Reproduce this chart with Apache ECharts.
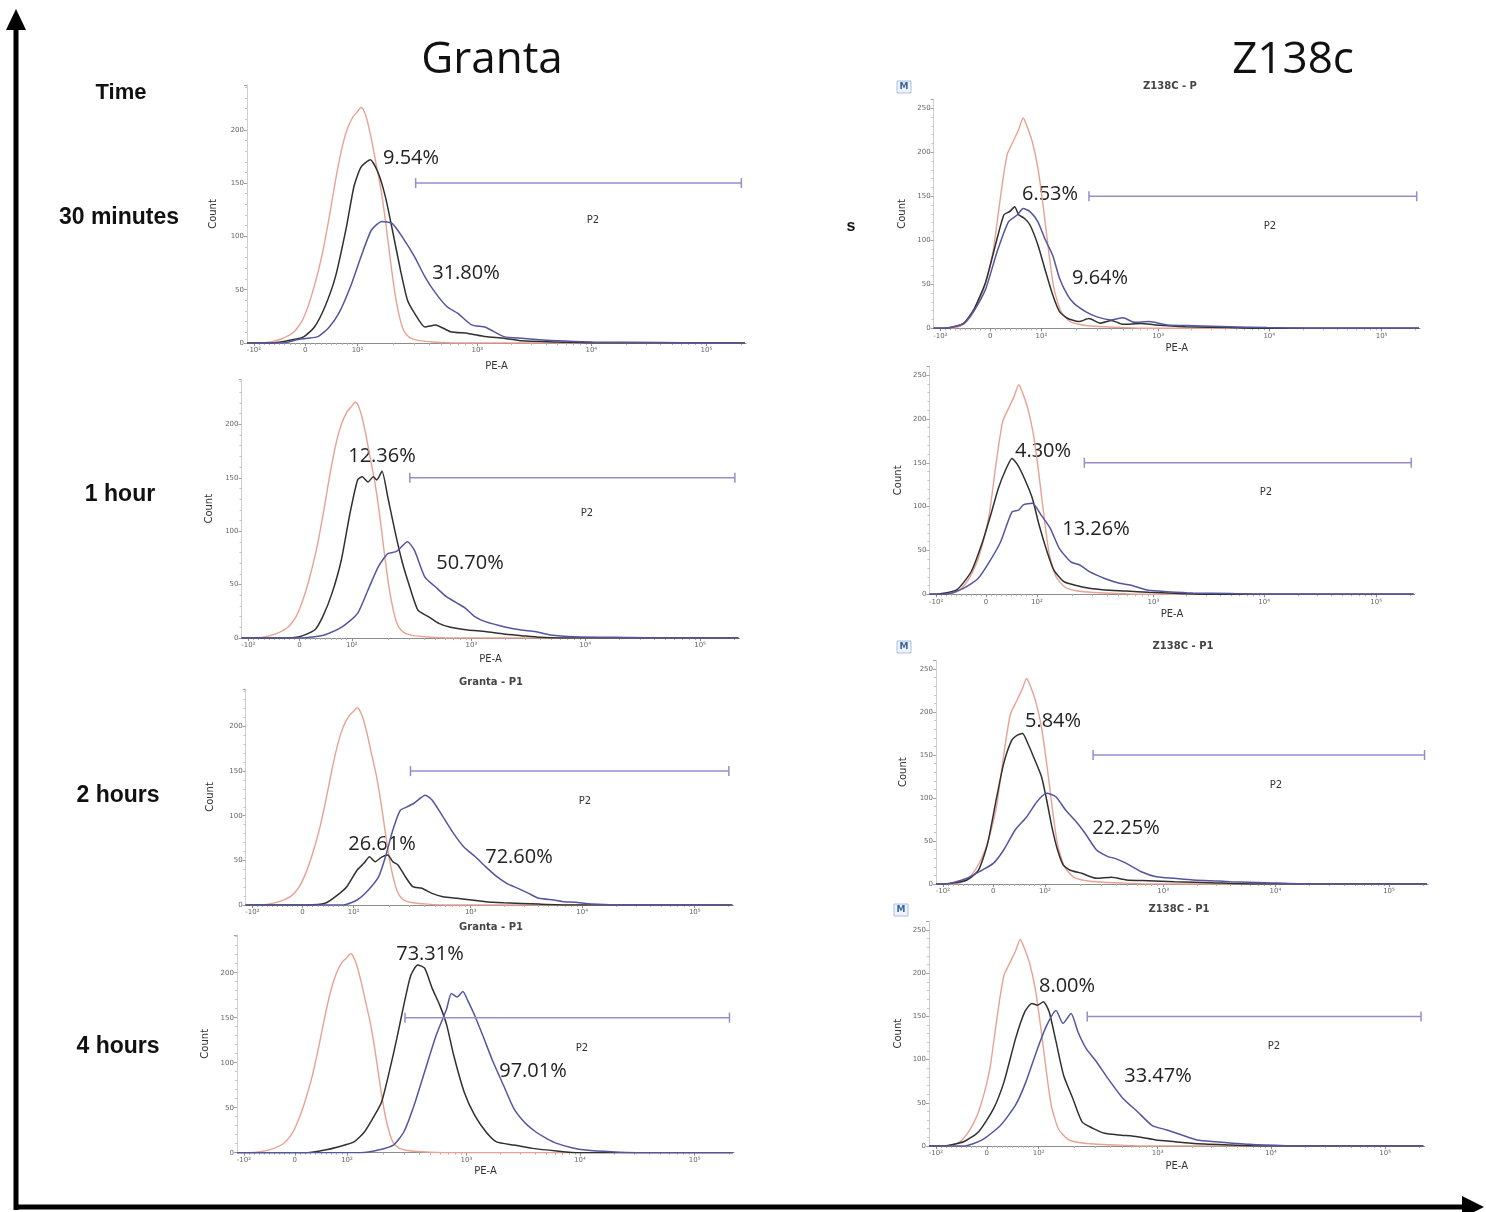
<!DOCTYPE html>
<html>
<head>
<meta charset="utf-8">
<title>Granta / Z138c PE-A histograms over time</title>
<script src="https://cdn.jsdelivr.net/npm/echarts@6.0.0/dist/echarts.min.js"></script>
<style>
  html, body { margin: 0; padding: 0; background: #ffffff; }
  #chart { width: 1486px; height: 1212px; }
</style>
</head>
<body>
<div id="chart"></div>
<script>
// ---- PE-A display axis (biexponential display units) ----
const xTickValues = [1.11, 1.55, 2, 3.03, 4.01, 5];
const xTickLabels = ['-10\u00B2', '0', '10\u00B2', '10\u00B3', '10\u2074', '10\u2075'];
const X_MIN = 1.05, X_MAX = 5.34;

// ---- Histograms: [display position, count] ----
const grantaControl = [[1.05,0],[1.15,0],[1.25,1],[1.35,4],[1.45,10],[1.52,20],[1.58,36],[1.64,58],[1.70,85],[1.76,120],[1.81,152],[1.86,180],[1.91,200],[1.96,212],[2.00,217],[2.03,221],[2.05,219],[2.08,210],[2.12,191],[2.16,168],[2.20,145],[2.24,115],[2.28,80],[2.32,48],[2.36,25],[2.40,11],[2.45,5],[2.52,2.5],[2.65,1],[2.85,0],[5.33,0]];
const granta30mBlack = [[1.05,0],[1.26,0],[1.44,3],[1.54,6],[1.63,15],[1.72,34],[1.81,62],[1.905,109],[1.97,147],[2.03,165],[2.11,172],[2.18,159],[2.24,137],[2.30,106],[2.37,68],[2.43,40],[2.49,28],[2.58,15],[2.67,17],[2.80,10.6],[2.95,9],[3.10,6],[3.26,4.4],[3.41,2],[3.72,1],[4.0,0],[5.33,0]];
const granta30mBlue = [[1.05,0],[1.35,0],[1.48,3],[1.57,4.4],[1.66,6],[1.75,14],[1.84,28],[1.94,53],[2.03,81],[2.12,106],[2.21,114],[2.30,112],[2.40,97],[2.49,81],[2.58,62],[2.67,47],[2.77,34],[2.86,28],[2.98,17],[3.10,14.7],[3.26,6],[3.41,4.4],[3.72,2],[4.02,1],[4.6,0.5],[5.0,0],[5.33,0]];
const granta1hBlack = [[1.05,0],[1.40,0],[1.55,1.2],[1.68,7.5],[1.75,20],[1.83,42],[1.91,73],[1.985,117],[2.05,148],[2.09,151],[2.14,146],[2.185,151],[2.215,148],[2.26,156],[2.31,132],[2.37,101],[2.43,73],[2.49,51],[2.57,26],[2.66,20],[2.75,13.7],[2.85,10],[3.0,7.5],[3.15,6],[3.31,3.7],[3.46,2.2],[3.62,0.6],[3.8,0],[5.33,0]];
const granta1hBlue = [[1.05,0],[1.55,0],[1.68,1.2],[1.77,3],[1.92,10.6],[2.05,23],[2.14,45],[2.23,67],[2.31,79],[2.385,81],[2.48,90],[2.54,82],[2.63,57],[2.72,48],[2.815,38.7],[2.91,32.5],[2.98,27.8],[3.06,20],[3.15,15.3],[3.31,10.6],[3.46,7.5],[3.58,6],[3.71,2.8],[3.92,1.2],[4.38,0.5],[4.7,0],[5.33,0]];
const granta2hBlack = [[1.05,0],[1.59,0],[1.75,1.9],[1.84,9.3],[1.94,20.5],[2.03,39],[2.09,46.7],[2.14,54],[2.19,48.5],[2.25,54],[2.30,56],[2.345,48.5],[2.39,44.8],[2.455,31.7],[2.52,20.5],[2.60,18.7],[2.69,13],[2.785,9.3],[2.91,7.5],[3.04,5.6],[3.16,3.7],[3.32,2.6],[3.63,1],[3.9,0],[5.33,0]];
const granta2hBlue = [[1.05,0],[1.91,0],[2.03,5.6],[2.13,16.8],[2.22,31.7],[2.28,54],[2.345,84],[2.41,106],[2.47,110],[2.53,114],[2.63,123],[2.69,117.6],[2.785,99],[2.88,80],[2.97,65],[3.07,54],[3.16,43],[3.26,31.7],[3.35,24],[3.445,18.7],[3.54,13],[3.63,7.5],[3.76,5.6],[3.85,3.7],[3.95,3],[4.10,1],[4.4,0],[5.33,0]];
const granta4hBlack = [[1.05,0],[1.66,0],[1.81,3],[1.93,6.7],[2.06,12],[2.15,23],[2.24,42],[2.30,57],[2.365,90],[2.43,127],[2.49,164],[2.55,197],[2.61,208.5],[2.67,205],[2.735,182.6],[2.80,164],[2.86,142],[2.92,108.5],[3.01,67.8],[3.10,42],[3.20,23],[3.29,12],[3.44,8.5],[3.60,4.8],[3.81,1.9],[4.0,0],[5.33,0]];
const granta4hBlue = [[1.05,0],[2.12,0],[2.27,3],[2.40,8.5],[2.49,23],[2.58,53],[2.67,90],[2.77,130.7],[2.86,160],[2.90,177],[2.95,173],[3.00,179],[3.04,169.6],[3.10,153],[3.17,130.7],[3.26,101],[3.35,75],[3.44,49],[3.54,32.6],[3.63,23],[3.72,16],[3.81,10.4],[3.94,5.6],[4.06,3],[4.28,1],[4.5,0],[5.33,0]];

const z138Control = [[1.05,0],[1.15,0],[1.25,1],[1.32,5],[1.38,14],[1.43,25],[1.48,40],[1.53,62],[1.58,92],[1.62,130],[1.66,168],[1.70,198],[1.75,212],[1.80,226],[1.84,239],[1.87,231],[1.92,212],[1.97,182],[2.02,135],[2.07,82],[2.11,46],[2.17,20],[2.25,8],[2.35,4],[2.5,2],[2.7,1],[2.9,0],[5.33,0]];
const z13830mBlack = [[1.05,0],[1.15,0],[1.315,5.7],[1.41,22.7],[1.51,53],[1.61,102],[1.67,129],[1.72,132.6],[1.765,138],[1.80,129],[1.85,125],[1.90,117.4],[1.97,94.7],[2.03,68],[2.10,38],[2.16,19],[2.23,11.4],[2.33,7.6],[2.42,11],[2.52,5.7],[2.62,9],[2.72,4.5],[2.88,5.5],[3.01,3.8],[3.27,1.9],[3.66,0.8],[3.9,0],[5.33,0]];
const z13830mBlue = [[1.05,0],[1.15,0],[1.315,5.7],[1.41,20.8],[1.51,45],[1.61,87],[1.71,121],[1.79,129],[1.84,136],[1.90,132.6],[1.97,121],[2.03,102],[2.10,83],[2.16,57],[2.23,38],[2.29,28],[2.39,19],[2.49,13],[2.62,9.5],[2.72,12],[2.82,6.8],[2.95,7.6],[3.11,3.8],[3.34,3],[3.66,1.9],[3.99,0.8],[4.4,0],[5.33,0]];
const z1381hBlack = [[1.05,0],[1.09,0],[1.29,5],[1.42,26],[1.52,60],[1.60,94],[1.66,121],[1.73,143.7],[1.78,155],[1.83,147.5],[1.89,132],[1.96,109.5],[2.02,79],[2.09,48.7],[2.15,27.7],[2.24,14.4],[2.33,10.6],[2.465,6.8],[2.60,5],[2.79,3.8],[2.99,2.3],[3.22,1.1],[3.5,0],[5.33,0]];
const z1381hBlue = [[1.05,0],[1.19,0],[1.35,6.8],[1.48,18],[1.58,37],[1.68,60],[1.78,94],[1.84,96],[1.88,102],[1.96,103.8],[2.04,90],[2.12,75],[2.20,52],[2.30,37],[2.38,33.4],[2.465,25.8],[2.60,18],[2.73,12.5],[2.825,10.6],[2.99,4.5],[3.15,3],[3.38,1.5],[3.71,0.8],[4.0,0],[5.33,0]];
const z1382hBlack = [[1.05,0],[1.13,0],[1.32,4.7],[1.42,16],[1.50,47],[1.58,101.5],[1.64,140],[1.71,167],[1.76,173],[1.805,175],[1.85,163.6],[1.90,148],[1.97,124.8],[2.015,97.7],[2.06,66.7],[2.11,39.5],[2.16,22],[2.22,16],[2.32,12.4],[2.45,6.6],[2.58,7.8],[2.71,4.7],[2.90,3.9],[3.13,2.7],[3.45,1.5],[3.8,0],[5.33,0]];
const z1382hBlue = [[1.05,0],[1.13,0],[1.32,6.6],[1.45,16],[1.55,24],[1.64,39.5],[1.74,62.8],[1.84,78],[1.93,95.7],[2.015,105.4],[2.095,101.5],[2.18,86],[2.26,74.4],[2.35,59],[2.45,39.5],[2.55,31.8],[2.61,29.8],[2.71,24],[2.84,14.3],[2.97,8.5],[3.13,6.6],[3.29,4.7],[3.45,3.9],[3.61,2.7],[3.93,1.5],[4.3,0],[5.33,0]];
const z1384hBlack = [[1.05,0],[1.16,0],[1.35,5],[1.48,16.6],[1.61,43.6],[1.70,74.5],[1.80,124.6],[1.88,155.5],[1.94,165],[1.99,163],[2.04,167],[2.09,155.5],[2.15,120.8],[2.215,82],[2.295,55],[2.375,28],[2.47,20.4],[2.57,14.7],[2.695,12.7],[2.855,10.8],[3.015,7],[3.18,5],[3.34,3],[3.66,1.2],[3.9,0],[5.33,0]];
const z1384hBlue = [[1.05,0],[1.35,0],[1.51,7],[1.67,24],[1.80,47.5],[1.89,74.5],[1.99,113],[2.07,140],[2.15,157],[2.21,142],[2.28,153.5],[2.34,132],[2.41,113],[2.50,97.6],[2.60,78],[2.73,55],[2.855,39.7],[2.98,24],[3.11,18.5],[3.24,12.7],[3.37,7],[3.53,5],[3.82,2],[4.14,0.4],[4.4,0],[5.33,0]];

// ---- P2 gate: [start, end, count level] ----
const grantaGate = [2.50, 5.30, 150];
const z138Gate = [2.42, 5.31, 150];

// ---- Gate percentages ----
const blackPercent = ['9.54%', '12.36%', '26.61%', '73.31%', '6.53%', '4.30%', '5.84%', '8.00%'];
const bluePercent = ['31.80%', '50.70%', '72.60%', '97.01%', '9.64%', '13.26%', '22.25%', '33.47%'];

// ---- Row / column headings ----
const columnTitles = ['Granta', 'Z138c'];
const rowTitles = ['30 minutes', '1 hour', '2 hours', '4 hours'];

const panelData = [
  { control: grantaControl, black: granta30mBlack, blue: granta30mBlue, gate: grantaGate, yMax: 242 },
  { control: grantaControl, black: granta1hBlack, blue: granta1hBlue, gate: grantaGate, yMax: 242 },
  { control: grantaControl, black: granta2hBlack, blue: granta2hBlue, gate: grantaGate, yMax: 242 },
  { control: grantaControl, black: granta4hBlack, blue: granta4hBlue, gate: grantaGate, yMax: 242 },
  { control: z138Control, black: z13830mBlack, blue: z13830mBlue, gate: z138Gate, yMax: 260 },
  { control: z138Control, black: z1381hBlack, blue: z1381hBlue, gate: z138Gate, yMax: 260 },
  { control: z138Control, black: z1382hBlack, blue: z1382hBlue, gate: z138Gate, yMax: 260 },
  { control: z138Control, black: z1384hBlack, blue: z1384hBlue, gate: z138Gate, yMax: 260 }
];

// ---- Page layout (pixels) ----
const panelLayout = [
  { rect: [247, 85, 499, 258], blackAt: [411, 158], blueAt: [466, 273], p2At: [593, 220], xName: true, xNameGap: 18, yNameGap: 29 },
  { rect: [241.5, 379.5, 498, 258.5], blackAt: [382, 456], blueAt: [470, 563], p2At: [587, 513], xName: true, xNameGap: 16, yNameGap: 27 },
  { rect: [245.6, 689, 487.8, 216], blackAt: [382, 844], blueAt: [519, 857], p2At: [585, 801], xName: false, yNameGap: 30, title: ['Granta - P1', 491, 682] },
  { rect: [236.9, 934.9, 497.2, 217.8], blackAt: [430, 954], blueAt: [533, 1071], p2At: [582, 1048], xName: true, xNameGap: 14, yNameGap: 26, title: ['Granta - P1', 491, 927] },
  { rect: [933.6, 99.5, 486.5, 228.8], blackAt: [1050, 194], blueAt: [1100, 278], p2At: [1270, 226], xName: true, xNameGap: 15, yNameGap: 26, title: ['Z138C - P', 1170, 86], badge: [904, 87] },
  { rect: [929.4, 366.3, 485.2, 228], blackAt: [1043, 451], blueAt: [1096, 529], p2At: [1266, 492], xName: true, xNameGap: 15, yNameGap: 26 },
  { rect: [936, 660.4, 492, 223.6], blackAt: [1053, 721], blueAt: [1126, 828], p2At: [1276, 785], xName: false, yNameGap: 28, title: ['Z138C - P1', 1183, 646], badge: [904, 647] },
  { rect: [929, 921.4, 495.5, 224.6], blackAt: [1067, 986], blueAt: [1158, 1076], p2At: [1274, 1046], xName: true, xNameGap: 15, yNameGap: 26, title: ['Z138C - P1', 1179, 909], badge: [901, 910] }
];

const COLORS = { control: '#e8a193', black: '#303030', blue: '#55559f', gate: '#9a8ccb' };
const AXIS_FONT = 'DejaVu Sans';

// minor ticks on the PE-A axis: linear steps around zero, log steps inside each decade
function peMinorTicks() {
  const out = [];
  const neg = xTickValues[0], zero = xTickValues[1], pos = xTickValues[2];
  for (let i = 1; i < 10; i++) {
    out.push(zero - (zero - neg) * i / 10);
    out.push(zero + (pos - zero) * i / 10);
  }
  const dec = [xTickValues[2], xTickValues[3], xTickValues[4], xTickValues[5],
               xTickValues[5] + (xTickValues[5] - xTickValues[4])];
  for (let d = 0; d < 4; d++) {
    for (let m = 2; m <= 9; m++) {
      const v = dec[d] + Math.log10(m) * (dec[d + 1] - dec[d]);
      if (v < X_MAX) out.push(v);
    }
  }
  return out;
}
const minorValues = peMinorTicks();

function peLabel(v) {
  for (let j = 0; j < xTickValues.length; j++) {
    if (Math.abs(xTickValues[j] - v) < 1e-6) return xTickLabels[j];
  }
  return '';
}

function renderGate(params, api) {
  const a = api.coord([api.value(0), api.value(2)]);
  const b = api.coord([api.value(1), api.value(2)]);
  const cap = 5;
  const style = { stroke: COLORS.gate, lineWidth: 1.5 };
  return {
    type: 'group',
    children: [
      { type: 'line', shape: { x1: a[0], y1: a[1], x2: b[0], y2: b[1] }, style },
      { type: 'line', shape: { x1: a[0], y1: a[1] - cap, x2: a[0], y2: a[1] + cap }, style },
      { type: 'line', shape: { x1: b[0], y1: b[1] - cap, x2: b[0], y2: b[1] + cap }, style }
    ]
  };
}

function text(x, y, str, font) {
  return {
    type: 'text', x, y, silent: true,
    style: Object.assign({
      text: str, fill: '#222', align: 'center', verticalAlign: 'middle',
      textAlign: 'center', textVerticalAlign: 'middle'
    }, font)
  };
}

const grids = [], xAxes = [], yAxes = [], series = [], graphics = [];

panelData.forEach((pd, i) => {
  const L = panelLayout[i];
  grids.push({ left: L.rect[0], top: L.rect[1], width: L.rect[2], height: L.rect[3] });

  xAxes.push({
    gridIndex: i, type: 'value', min: X_MIN, max: X_MAX, position: 'bottom', offset: 0,
    axisLine: { show: true, lineStyle: { color: '#8c8c8c', width: 1 } },
    axisTick: { show: true, customValues: xTickValues, length: 3, lineStyle: { color: '#8c8c8c' } },
    axisLabel: { customValues: xTickValues, formatter: peLabel, fontSize: 7, color: '#666', margin: 4, fontFamily: AXIS_FONT },
    splitLine: { show: false },
    name: L.xName ? 'PE-A' : '', nameLocation: 'middle', nameGap: L.xNameGap || 15,
    nameTextStyle: { fontSize: 10, color: '#333', fontFamily: AXIS_FONT }
  });
  xAxes.push({
    gridIndex: i, type: 'value', min: X_MIN, max: X_MAX, position: 'bottom', offset: 0,
    axisLine: { show: false },
    axisTick: { show: true, customValues: minorValues, length: 2, lineStyle: { color: '#b4b4b4' } },
    axisLabel: { show: false },
    splitLine: { show: false }
  });

  yAxes.push({
    gridIndex: i, type: 'value', min: 0, max: pd.yMax, interval: 50,
    axisLine: { show: true, lineStyle: { color: '#cfcfcf', width: 1 } },
    axisTick: { show: true, length: 3, lineStyle: { color: '#a0a0a0' } },
    minorTick: { show: true, splitNumber: 5, length: 2, lineStyle: { color: '#c4c4c4' } },
    splitLine: { show: false },
    axisLabel: {
      fontSize: 7, color: '#666', margin: 3, fontFamily: AXIS_FONT,
      formatter: v => (v % 50 === 0 ? String(v) : '')
    },
    name: 'Count', nameLocation: 'middle', nameGap: L.yNameGap,
    nameTextStyle: { fontSize: 10, color: '#333', fontFamily: AXIS_FONT }
  });

  const lineSeries = (data, color, width, z) => ({
    type: 'line', xAxisIndex: 2 * i, yAxisIndex: i, data,
    showSymbol: false, symbol: 'none', smooth: 0.2, silent: true, z,
    lineStyle: { color, width }
  });
  series.push(lineSeries(pd.control, COLORS.control, 1.4, 2));
  series.push(lineSeries(pd.black, COLORS.black, 1.5, 3));
  series.push(lineSeries(pd.blue, COLORS.blue, 1.5, 4));
  series.push({
    type: 'custom', xAxisIndex: 2 * i, yAxisIndex: i, silent: true, z: 5,
    renderItem: renderGate, encode: { x: [0, 1], y: 2 },
    data: [pd.gate]
  });

  const pctFont = { fontSize: 20, fontFamily: 'Open Sans', fill: '#222' };
  graphics.push(text(L.blackAt[0], L.blackAt[1], blackPercent[i], pctFont));
  graphics.push(text(L.blueAt[0], L.blueAt[1], bluePercent[i], pctFont));
  graphics.push(text(L.p2At[0], L.p2At[1], 'P2', { fontSize: 10, fontFamily: AXIS_FONT, fill: '#333' }));
  if (L.title) {
    graphics.push(text(L.title[1], L.title[2], L.title[0], { fontSize: 10, fontFamily: AXIS_FONT, fontWeight: 'bold', fill: '#444' }));
  }
  if (L.badge) {
    graphics.push({
      type: 'group', x: L.badge[0], y: L.badge[1], silent: true,
      children: [
        { type: 'rect', shape: { x: -7, y: -6, width: 14, height: 12 }, style: { fill: '#eef3fb', stroke: '#a9c0e0', lineWidth: 1 } },
        { type: 'text', x: 0, y: 0, style: { text: 'M', fontSize: 9, fontWeight: 'bold', fontFamily: AXIS_FONT, fill: '#3a66a8', align: 'center', verticalAlign: 'middle', textAlign: 'center', textVerticalAlign: 'middle' } }
      ]
    });
  }
});

// column titles
graphics.push(text(492, 60, columnTitles[0], { fontSize: 44, fontFamily: 'Open Sans', fill: '#111' }));
graphics.push(text(1293, 60, columnTitles[1], { fontSize: 44, fontFamily: 'Open Sans', fill: '#111' }));

// row titles
const rowFont = { fontSize: 23, fontFamily: 'Liberation Sans', fontWeight: 'bold', fill: '#111' };
graphics.push(text(121, 93, 'Time', Object.assign({}, rowFont, { fontSize: 22 })));
[[119, 218], [120, 495], [118, 796], [118, 1047]].forEach((p, k) => {
  graphics.push(text(p[0], p[1], rowTitles[k], rowFont));
});
graphics.push(text(851, 227, 's', { fontSize: 16, fontFamily: 'Liberation Sans', fontWeight: 'bold', fill: '#111' }));

// time and intensity arrows
graphics.push({ type: 'line', silent: true, shape: { x1: 16, y1: 1210, x2: 16, y2: 26 }, style: { stroke: '#000', lineWidth: 5 } });
graphics.push({ type: 'polygon', silent: true, shape: { points: [[16, 9], [6, 30], [26, 30]] }, style: { fill: '#000' } });
graphics.push({ type: 'line', silent: true, shape: { x1: 14, y1: 1207, x2: 1464, y2: 1207 }, style: { stroke: '#000', lineWidth: 5 } });
graphics.push({ type: 'polygon', silent: true, shape: { points: [[1484, 1207], [1462, 1196], [1462, 1218]] }, style: { fill: '#000' } });

const chart = echarts.init(document.getElementById('chart'), null, { renderer: 'canvas' });
chart.setOption({
  animation: false,
  backgroundColor: '#ffffff',
  textStyle: { fontFamily: AXIS_FONT },
  grid: grids,
  xAxis: xAxes,
  yAxis: yAxes,
  series,
  graphic: { elements: graphics }
});
</script>
</body>
</html>
